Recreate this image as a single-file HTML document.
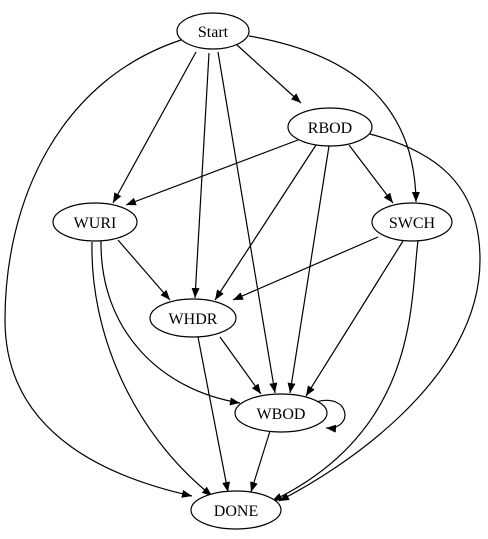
<!DOCTYPE html>
<html><head><style>body{margin:0;background:#fff}svg{display:block}</style></head><body>
<svg width="488" height="539" viewBox="0 0 488 539" xmlns="http://www.w3.org/2000/svg">
<defs><marker id="a" markerWidth="10" markerHeight="8" refX="10" refY="4" orient="auto" markerUnits="userSpaceOnUse"><path d="M0,0 L10,4 L0,8 Z" fill="#000"/></marker></defs>
<g fill="none" stroke="#000" stroke-width="1.2" marker-end="url(#a)">
<path d="M181,40 C60,80 5,200 5,320 C5,440 120,480 192,496"/>
<path d="M196,52 L113,203"/>
<path d="M209,53 L195,298"/>
<path d="M218,52 L275,393"/>
<path d="M237,45 L301,103"/>
<path d="M249,36 C360,55 415,110 416,202"/>
<path d="M298,140 L126,205"/>
<path d="M316,145 L215,300"/>
<path d="M329,146 L290,393"/>
<path d="M349,145 L393,203"/>
<path d="M370,134 C430,150 480,180 480,260 C480,380 340,470 279,501"/>
<path d="M118,240 L170,300"/>
<path d="M101,241 C100,330 160,390 240,403"/>
<path d="M92,242 C90,330 130,430 212,496"/>
<path d="M378,237 L233,300"/>
<path d="M403,241 L306,396"/>
<path d="M418,241 C410,300 420,430 272,501"/>
<path d="M220,337 L261,394"/>
<path d="M198,337 L228,492"/>
<path d="M270,431 L251,492"/>
<path d="M316,402 C350,392 355,430 326,428"/>
</g>
<g fill="#fff" stroke="#000" stroke-width="1.2">
<ellipse cx="213" cy="31" rx="36" ry="18"/>
<ellipse cx="330" cy="127" rx="42" ry="19"/>
<ellipse cx="95" cy="222" rx="42" ry="19"/>
<ellipse cx="412" cy="222" rx="40" ry="19"/>
<ellipse cx="193" cy="318" rx="43" ry="19"/>
<ellipse cx="281" cy="413" rx="46" ry="19"/>
<ellipse cx="236" cy="510" rx="45" ry="19"/>
</g>
<g font-family="Liberation Serif, serif" font-size="16" text-anchor="middle">
<text x="213" y="37">Start</text>
<text x="330" y="133">RBOD</text>
<text x="95" y="228">WURI</text>
<text x="412" y="228">SWCH</text>
<text x="193" y="324">WHDR</text>
<text x="281" y="419">WBOD</text>
<text x="236" y="516">DONE</text>
</g>
</svg>
</body></html>
